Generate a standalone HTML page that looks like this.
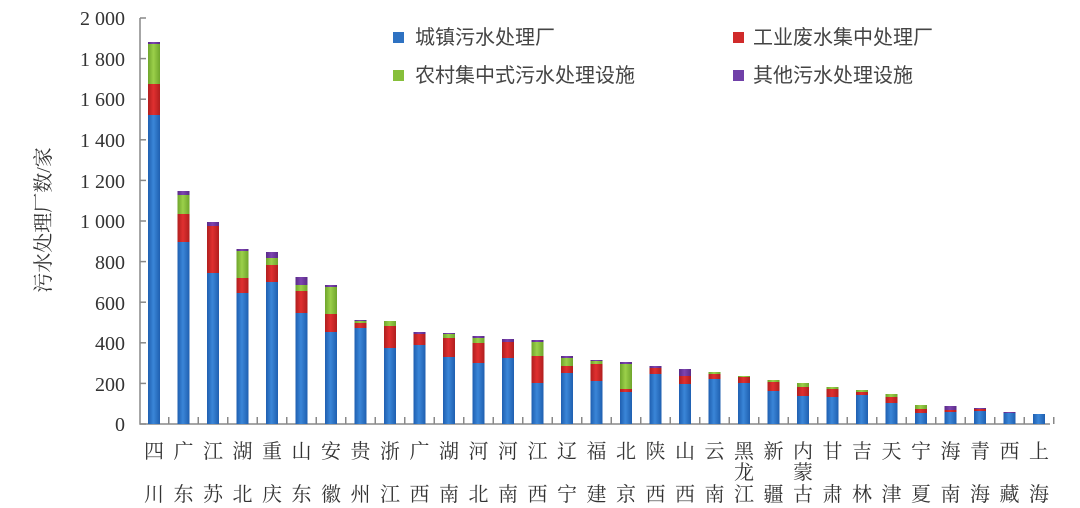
<!DOCTYPE html>
<html><head><meta charset="utf-8"><style>
html,body{margin:0;padding:0;background:#fff;width:1080px;height:508px;overflow:hidden}
svg{display:block}
.t{font-family:"Liberation Serif","Noto Serif CJK SC",serif;font-size:20px;fill:#333}
.c{font-family:"Liberation Serif","Noto Serif CJK SC",serif;font-size:20px;fill:#333;text-anchor:middle}
.l{font-family:"Liberation Sans","Noto Sans CJK SC",sans-serif;font-size:20px;fill:#444}
</style></head><body>
<svg id="s" width="1080" height="508" xmlns="http://www.w3.org/2000/svg">
<defs>
<linearGradient id="gb" x1="0" x2="1"><stop offset="0" stop-color="#1f5fb0"/><stop offset="0.45" stop-color="#3a86d8"/><stop offset="1" stop-color="#1f5fb0"/></linearGradient>
<linearGradient id="gr" x1="0" x2="1"><stop offset="0" stop-color="#b01e1e"/><stop offset="0.45" stop-color="#e03030"/><stop offset="1" stop-color="#b01e1e"/></linearGradient>
<linearGradient id="gg" x1="0" x2="1"><stop offset="0" stop-color="#6fa52c"/><stop offset="0.45" stop-color="#9bd04a"/><stop offset="1" stop-color="#6fa52c"/></linearGradient>
<linearGradient id="gp" x1="0" x2="1"><stop offset="0" stop-color="#5a2a88"/><stop offset="0.45" stop-color="#7d45b0"/><stop offset="1" stop-color="#5a2a88"/></linearGradient>
</defs>
<g stroke="#888" stroke-width="1.5" fill="none">
<path d="M140,18 V424 H1050"/>
</g>
<g id="ticks" stroke="#888" stroke-width="1.5"></g>
<g id="bars"></g>
<g class="t" text-anchor="end">
<text x="125" y="25">2 000</text><text x="125" y="66">1 800</text><text x="125" y="106">1 600</text>
<text x="125" y="147">1 400</text><text x="125" y="188">1 200</text><text x="125" y="228">1 000</text>
<text x="125" y="269">800</text><text x="125" y="310">600</text><text x="125" y="350">400</text>
<text x="125" y="391">200</text><text x="125" y="431">0</text>
</g>
<text class="t" transform="translate(50,220) rotate(-90)" text-anchor="middle">污水处理厂数/家</text>
<rect x="393" y="32" width="11" height="11" fill="#2e72c2"/><text class="l" x="415" y="44">城镇污水处理厂</text>
<rect x="733" y="32" width="11" height="11" fill="#d02a2a"/><text class="l" x="753" y="44">工业废水集中处理厂</text>
<rect x="393" y="70" width="11" height="11" fill="#86bf3a"/><text class="l" x="415" y="82">农村集中式污水处理设施</text>
<rect x="733" y="70" width="11" height="11" fill="#7040a8"/><text class="l" x="753" y="82">其他污水处理设施</text>
<g id="labels"></g>
</svg>
<script>
var d=[[115,84,44,42],[242,214,195,191],[273,226,226,222],[293,278,251,249],[282,265,258,252],[313,291,285,277],[332,314,287,285],[328,323,321,320],[348,326,321,321],[345,334,334,332],[357,338,334,333],[363,343,338,336],[358,342,342,339],[383,356,342,340],[373,366,358,356],[381,364,361,360],[392,389,364,362],[374,368,368,366],[384,376,376,369],[379,374,372,372],[383,377,376,376],[391,382,380,380],[396,387,383,383],[397,389,387,387],[395,392,390,390],[403,397,394,394],[413,409,405,405],[412,410,410,406],[411,409,409,408],[413,413,413,412],[414,414,414,414]];
var n=["四川","广东","江苏","湖北","重庆","山东","安徽","贵州","浙江","广西","湖南","河北","河南","江西","辽宁","福建","北京","陕西","山西","云南","黑龙江","新疆","内蒙古","甘肃","吉林","天津","宁夏","海南","青海","西藏","上海"];
var ns="http://www.w3.org/2000/svg",B=document.getElementById('bars'),L=document.getElementById('labels'),T=document.getElementById('ticks');
function r(x,y,w,h,f){if(h<=0)return;var e=document.createElementNS(ns,'rect');e.setAttribute('x',x);e.setAttribute('y',y);e.setAttribute('width',w);e.setAttribute('height',h);e.setAttribute('fill',f);B.appendChild(e);}
function ln(x1,y1,x2,y2){var e=document.createElementNS(ns,'line');e.setAttribute('x1',x1);e.setAttribute('y1',y1);e.setAttribute('x2',x2);e.setAttribute('y2',y2);T.appendChild(e);}
for(var k=0;k<=10;k++){var y=424-k*40.6;ln(140,y,146,y);}
for(var i=0;i<31;i++){var c=154+i*29.5,x=c-6,a=d[i];
r(x,a[0],12,424-a[0],'url(#gb)');r(x,a[1],12,a[0]-a[1],'url(#gr)');r(x,a[2],12,a[1]-a[2],'url(#gg)');r(x,a[3],12,a[2]-a[3],'url(#gp)');
ln(c+14.75,424,c+14.75,417);
var s=n[i],ys=s.length==3?[458,479,501]:[458,501];
for(var j=0;j<s.length;j++){var t=document.createElementNS(ns,'text');t.setAttribute('class','c');t.setAttribute('x',c);t.setAttribute('y',ys[j]);t.textContent=s[j];L.appendChild(t);}}
</script>
</body></html>
